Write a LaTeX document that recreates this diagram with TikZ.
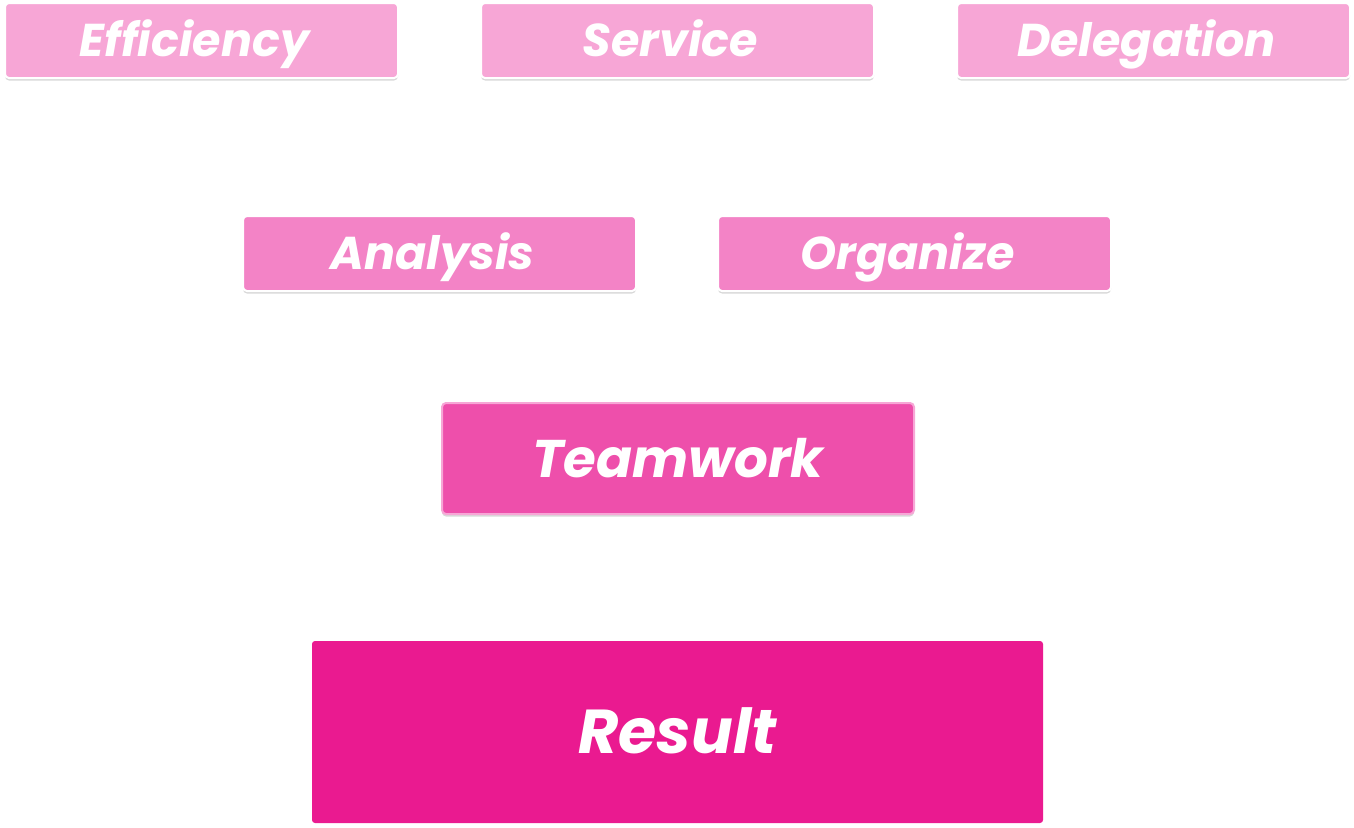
\documentclass[tikz,border=0pt]{standalone}
\usepackage{fontspec}
\setmainfont{Poppins}[BoldItalicFont={* Bold Italic}]
\usetikzlibrary{shadows}
\definecolor{pk1}{HTML}{F7A6D6}
\definecolor{pk2}{HTML}{F383C6}
\definecolor{pk3}{HTML}{EE4FAB}
\definecolor{pk4}{HTML}{EA1A90}
\tikzset{
  box/.style={draw=white, line width=2pt, rounded corners=4pt, inner sep=0pt,
    text=white, text depth=0pt,
    drop shadow={shadow xshift=0pt, shadow yshift=-2.5pt, fill=black!25, opacity=0.6}},
  topbox/.style={box, fill=pk1, minimum width=393pt, minimum height=75pt, text height=32pt,
    execute at end node={\kern14pt}, font=\bfseries\itshape\fontsize{46}{46}\selectfont},
  midbox/.style={box, fill=pk2, minimum width=393pt, minimum height=75pt, text height=32pt,
    execute at end node={\kern14pt}, font=\bfseries\itshape\fontsize{46}{46}\selectfont},
  teambox/.style={box, draw=pk1, fill=pk3, minimum width=472pt, minimum height=111pt, text height=37.5pt, font=\bfseries\itshape\fontsize{53}{53}\selectfont},
  resbox/.style={rounded corners=3pt, fill=pk4, inner sep=0pt, text=white, text height=43.5pt, text depth=0pt, minimum width=731pt, minimum height=182pt, font=\bfseries\itshape\fontsize{62}{62}\selectfont},
}
\begin{document}
\begin{tikzpicture}[x=1pt,y=-1pt]
\useasboundingbox (0,0) rectangle (1354,827);
\node[topbox] (eff) at (201.5,40.5) {Efficiency};
\node[topbox] (ser) at (677.5,40.5) {Service};
\node[topbox] (del) at (1153.5,40.5) {Delegation};
\node[midbox] (ana) at (439.5,253.5) {Analysis};
\node[midbox] (org) at (914.5,253.5) {Organize};
\node[teambox] (team) at (678,458.5) {Teamwork};
\node[resbox] (res) at (677.5,732) {Result};
\end{tikzpicture}
\end{document}
